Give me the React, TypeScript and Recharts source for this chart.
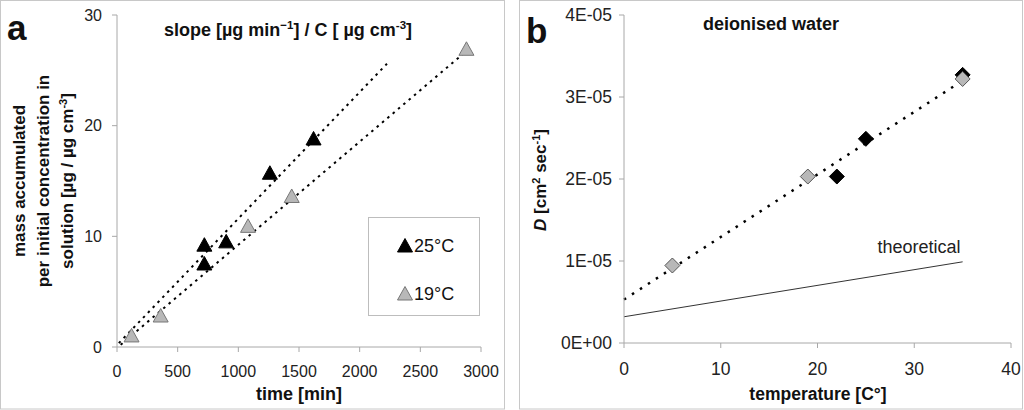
import React from "react";
import {
  ScatterChart,
  Scatter,
  XAxis,
  YAxis,
  ReferenceLine,
  Legend,
} from "recharts";

// panel a: mass accumulated vs time
const warmPoints = [
  { time: 720, mass: 9.2 },
  { time: 720, mass: 7.5 },
  { time: 900, mass: 9.5 },
  { time: 1260, mass: 15.7 },
  { time: 1620, mass: 18.8 },
];
const coolPoints = [
  { time: 120, mass: 1.0 },
  { time: 360, mass: 2.8 },
  { time: 1080, mass: 10.9 },
  { time: 1440, mass: 13.6 },
  { time: 2880, mass: 26.9 },
];
const warmTrend = [
  { x: 15, y: 0.35 },
  { x: 2225, y: 25.6 },
];
const coolTrend = [
  { x: 30, y: 0.2 },
  { x: 2875, y: 26.7 },
];
const timeTicks = [0, 500, 1000, 1500, 2000, 2500, 3000];
const massTicks = [0, 10, 20, 30];

// panel b: diffusion coefficient vs temperature
const greyDiamonds = [
  { temp: 5, d: 9.45e-6 },
  { temp: 19, d: 2.03e-5 },
  { temp: 35, d: 3.22e-5 },
];
const blackDiamonds = [
  { temp: 22, d: 2.03e-5 },
  { temp: 25, d: 2.49e-5 },
  { temp: 35, d: 3.27e-5 },
];
const measuredTrend = [
  { x: 0, y: 5.3e-6 },
  { x: 35, y: 3.2e-5 },
];
const theoryLine = [
  { x: 0, y: 3.2e-6 },
  { x: 35, y: 9.9e-6 },
];
const tempTicks = [0, 10, 20, 30, 40];
const dTicks = [0, 1e-5, 2e-5, 3e-5, 4e-5];

const FONT = '"Liberation Sans", Arial, sans-serif';
const AXIS = "#a8a8a8";
const GREY_FILL = "#b8b8b8";

const fmtD = (v: number) =>
  v === 0 ? "0E+00" : `${Math.round(v * 1e5)}E-05`;

function Tri({ cx, cy, fill, stroke }: any) {
  return (
    <polygon
      points={`${cx},${cy - 7.5} ${cx - 7.5},${cy + 6} ${cx + 7.5},${cy + 6}`}
      fill={fill}
      stroke={stroke}
      strokeWidth={1}
    />
  );
}

function Diamond({ cx, cy, fill, stroke }: any) {
  return (
    <polygon
      points={`${cx},${cy - 7.5} ${cx + 7.5},${cy} ${cx},${cy + 7.5} ${cx - 7.5},${cy}`}
      fill={fill}
      stroke={stroke}
      strokeWidth={1}
    />
  );
}

function LegendBox() {
  return (
    <div
      style={{
        width: 110,
        height: 97,
        border: "1px solid #bdbdbd",
        background: "#fff",
      }}
    >
      <svg width={110} height={97} style={{ display: "block" }}>
        <Tri cx={36} cy={28} fill="#000" stroke="#000" />
        <text x={45} y={34} fontSize={18} fontFamily={FONT} fill="#111">
          25°C
        </text>
        <Tri cx={36} cy={76} fill={GREY_FILL} stroke="#777" />
        <text x={45} y={82} fontSize={18} fontFamily={FONT} fill="#111">
          19°C
        </text>
      </svg>
    </div>
  );
}

const tickStyleA = { fontSize: 16, fill: "#222", fontFamily: FONT };
const tickStyleB = { fontSize: 17.5, fill: "#222", fontFamily: FONT };

function PanelA() {
  return (
    <ScatterChart
      width={505}
      height={410}
      margin={{ top: 15, right: 24, bottom: 33, left: 77 }}
    >
      <XAxis
        type="number"
        dataKey="time"
        domain={[0, 3000]}
        ticks={timeTicks}
        height={30}
        tick={tickStyleA}
        tickSize={5}
        tickMargin={14}
        stroke={AXIS}
        interval={0}
      />
      <YAxis
        type="number"
        dataKey="mass"
        domain={[0, 30]}
        ticks={massTicks}
        width={40}
        tick={tickStyleA}
        tickSize={5}
        tickMargin={10}
        stroke={AXIS}
        interval={0}
      />
      <ReferenceLine
        segment={warmTrend}
        stroke="#000"
        strokeWidth={2}
        strokeDasharray="2.5 4.5"
      />
      <ReferenceLine
        segment={coolTrend}
        stroke="#000"
        strokeWidth={2}
        strokeDasharray="2.5 4.5"
      />
      <Scatter
        name="19°C"
        data={coolPoints}
        isAnimationActive={false}
        shape={(p: any) => <Tri {...p} fill={GREY_FILL} stroke="#777" />}
      />
      <Scatter
        name="25°C"
        data={warmPoints}
        isAnimationActive={false}
        shape={(p: any) => <Tri {...p} fill="#000" stroke="#000" />}
      />
      <Legend
        layout="vertical"
        align="center"
        verticalAlign="middle"
        content={() => <LegendBox />}
        wrapperStyle={{ left: 368, top: 217, width: 112, height: 99 }}
      />
    </ScatterChart>
  );
}

function PanelB() {
  return (
    <ScatterChart
      width={504}
      height={410}
      margin={{ top: 15, right: 12, bottom: 37, left: 45 }}
    >
      <XAxis
        type="number"
        dataKey="temp"
        domain={[0, 40]}
        ticks={tempTicks}
        height={30}
        tick={tickStyleB}
        tickSize={5}
        tickMargin={15}
        stroke={AXIS}
        interval={0}
      />
      <YAxis
        type="number"
        dataKey="d"
        domain={[0, 4e-5]}
        ticks={dTicks}
        tickFormatter={fmtD}
        width={60}
        tick={tickStyleB}
        tickSize={5}
        tickMargin={7}
        stroke={AXIS}
        interval={0}
      />
      <ReferenceLine
        segment={theoryLine}
        stroke="#333"
        strokeWidth={1}
      />
      <ReferenceLine
        segment={measuredTrend}
        stroke="#000"
        strokeWidth={2.5}
        strokeDasharray="2.5 7"
      />
      <Scatter
        data={blackDiamonds}
        isAnimationActive={false}
        shape={(p: any) => <Diamond {...p} fill="#000" stroke="#000" />}
      />
      <Scatter
        data={greyDiamonds}
        isAnimationActive={false}
        shape={(p: any) => <Diamond {...p} fill={GREY_FILL} stroke="#555" />}
      />
    </ScatterChart>
  );
}

export default function App() {
  const bold = { fontFamily: FONT, fontWeight: 700, fill: "#111" } as const;
  return (
    <div
      style={{
        position: "absolute",
        left: 0,
        top: 0,
        width: 1024,
        height: 410,
        background: "#fff",
        fontFamily: FONT,
      }}
    >
      <div style={{ position: "absolute", left: 0, top: 0 }}>
        <PanelA />
      </div>
      <div style={{ position: "absolute", left: 519, top: 0 }}>
        <PanelB />
      </div>
      <svg
        width={1024}
        height={410}
        style={{ position: "absolute", left: 0, top: 0, pointerEvents: "none" }}
      >
        <rect x={0.5} y={0.5} width={504} height={408.5} fill="none" stroke="#c8c8c8" />
        <rect x={519.5} y={0.5} width={503} height={408.5} fill="none" stroke="#c8c8c8" />

        {/* panel a annotations */}
        <text x={7} y={40} fontSize={35} {...bold}>a</text>
        <text x={288} y={36} fontSize={18} textAnchor="middle" {...bold}>
          slope [µg min
          <tspan dy={-7} fontSize={11.5}>−1</tspan>
          <tspan dy={7}>] / C [ µg cm</tspan>
          <tspan dy={-7} fontSize={11.5}>-3</tspan>
          <tspan dy={7}>]</tspan>
        </text>
        <text x={299} y={400} fontSize={18} textAnchor="middle" {...bold}>
          time [min]
        </text>
        <g fontSize={17} {...bold}>
          <text transform="translate(25,181) rotate(-90)" textAnchor="middle">
            mass accumulated
          </text>
          <text transform="translate(49,181) rotate(-90)" textAnchor="middle">
            per initial concentration in
          </text>
          <text transform="translate(73,181) rotate(-90)" textAnchor="middle">
            solution [µg / µg cm
            <tspan dy={-6} fontSize={11}>-3</tspan>
            <tspan dy={6}>]</tspan>
          </text>
        </g>

        {/* panel b annotations */}
        <text x={526} y={43} fontSize={35} {...bold}>b</text>
        <text x={771} y={30} fontSize={18} textAnchor="middle" {...bold}>
          deionised water
        </text>
        <text x={818} y={400} fontSize={17.5} textAnchor="middle" {...bold}>
          temperature [C°]
        </text>
        <text transform="translate(546,180) rotate(-90)" textAnchor="middle" fontSize={17} {...bold}>
          <tspan fontStyle="italic">D</tspan> [cm
          <tspan dy={-6} fontSize={11}>2</tspan>
          <tspan dy={6}> sec</tspan>
          <tspan dy={-6} fontSize={11}>-1</tspan>
          <tspan dy={6}>]</tspan>
        </text>
        <text x={919} y={253} fontSize={18} textAnchor="middle" fontFamily={FONT} fill="#222">
          theoretical
        </text>
      </svg>
    </div>
  );
}
